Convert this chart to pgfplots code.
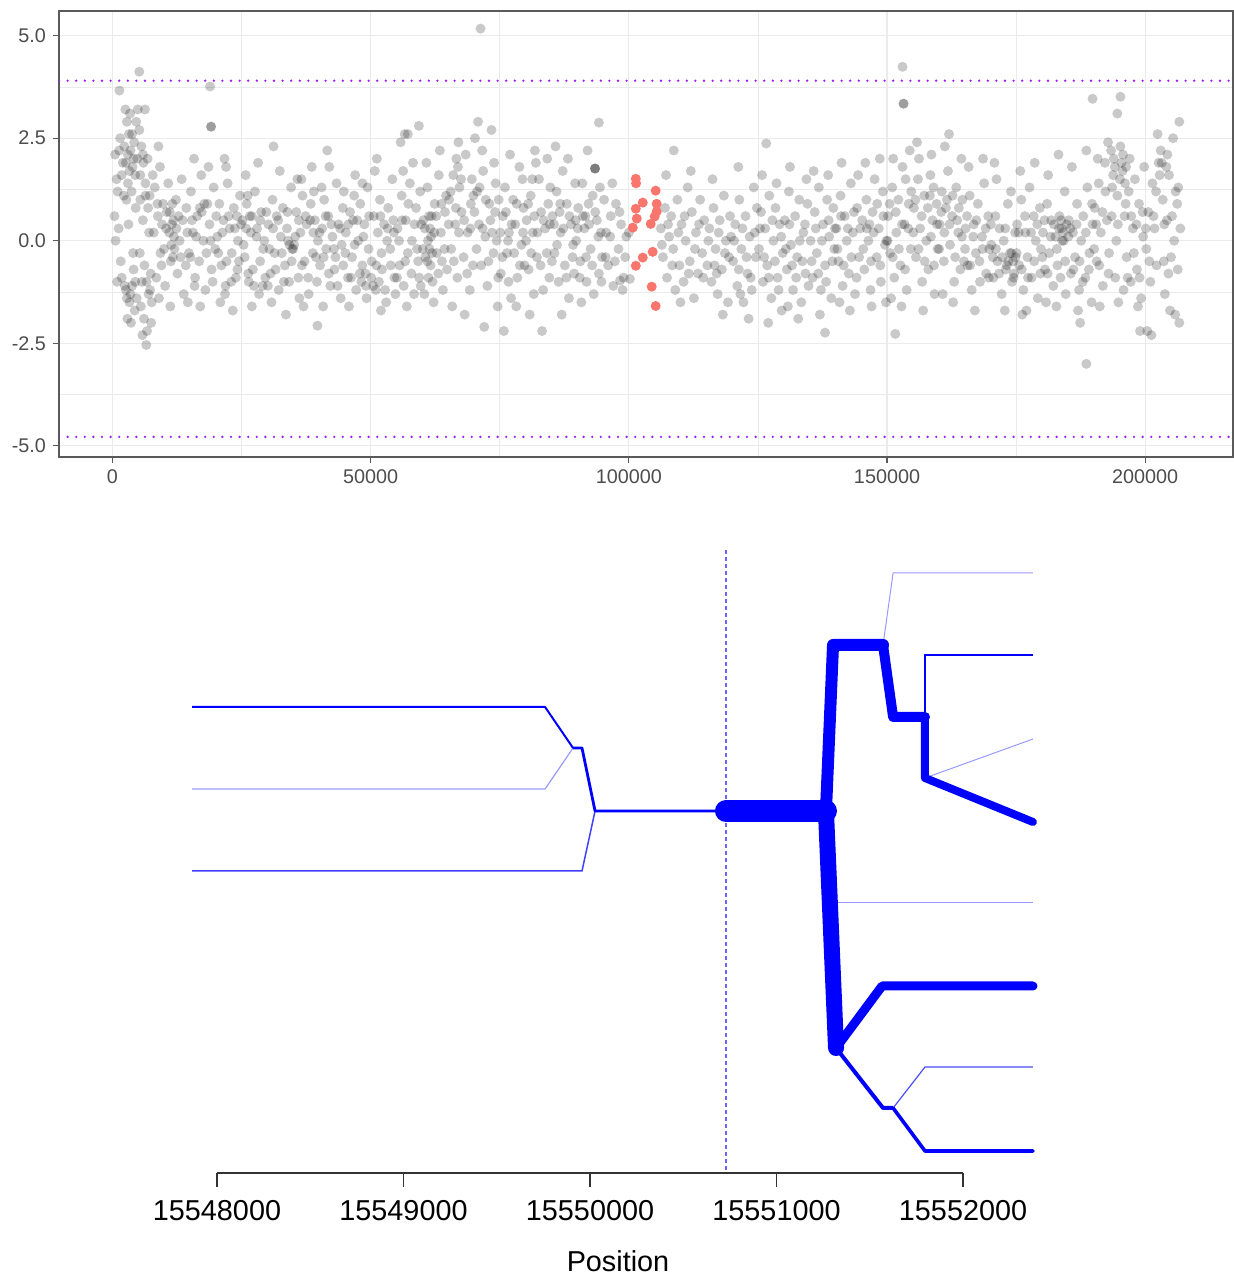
\documentclass[border=0pt]{standalone}
\usepackage{pgfplots}
\pgfplotsset{compat=1.18}
\usepackage{fontspec}
\setmainfont{Liberation Sans}
\definecolor{ggred}{HTML}{F8766D}
\definecolor{rpurple}{RGB}{160,32,240}
\definecolor{gridgray}{HTML}{EBEBEB}
\definecolor{bordergray}{HTML}{5A5A5A}
\definecolor{ticklab}{HTML}{4D4D4D}
\begin{document}
\begin{tikzpicture}
\useasboundingbox (0,0) rectangle (617pt,638pt);
% ---- top panel: per-SNP score along the region ----
\begin{axis}[
  at={(29.5pt,409.5pt)}, anchor=south west,
  scale only axis, width=587pt, height=223pt,
  xmin=-10350, xmax=217000, ymin=-5.27, ymax=5.6,
  scaled x ticks=false,
  xtick={0,50000,100000,150000,200000},
  xticklabels={0,50000,100000,150000,200000},
  minor xtick={25000,75000,125000,175000},
  ytick={-5,-2.5,0,2.5,5},
  yticklabels={-5.0,-2.5,0.0,2.5,5.0},
  minor ytick={-3.75,-1.25,1.25,3.75},
  grid=both,
  major grid style={gridgray, line width=0.55pt},
  minor grid style={gridgray, line width=0.3pt},
  axis line style={bordergray, line width=0.7pt},
  tick style={bordergray, line width=0.55pt},
  tick align=outside, major tick length=3pt, minor tick length=0pt,
  xtick pos=bottom, ytick pos=left,
  ticklabel style={font=\fontsize{9.9}{11}\selectfont, text=ticklab},
]
\addplot[rpurple, line width=1.3pt, dash pattern=on 0pt off 4.3pt, line cap=round]
  coordinates {(-10350,3.9) (217000,3.9)};
\addplot[rpurple, line width=1.3pt, dash pattern=on 0pt off 4.3pt, line cap=round]
  coordinates {(-10350,-4.78) (217000,-4.78)};
\addplot[only marks, mark=*, mark size=2.5pt, draw opacity=0,
  mark options={draw opacity=0, line width=0pt, fill=black, fill opacity=0.21}]
coordinates {
(500,2.1)(800,1.5)(1200,0.3)(1500,2.5)(900,-1.0)(1800,-0.9)(600,0.0)(2000,1.9)(1300,2.2)(2200,1.1)(400,0.6)(1600,-0.5)
(2800,2.9)(3200,2.6)(3500,2.2)(3900,1.8)(4200,2.4)(4600,2.9)(3000,1.4)(3700,1.2)(4400,1.6)(4800,2.0)(2600,-1.2)(3300,-1.5)
(3800,-1.1)(4300,-1.7)(4700,-1.4)(2900,-1.9)(3600,-2.0)(4100,-0.7)(4500,0.8)(3100,0.4)(4900,3.2)(3400,3.1)(2700,1.0)(4000,-0.3)
(5200,2.7)(5600,2.3)(6000,1.9)(6400,1.4)(6800,2.0)(7200,1.1)(5400,1.0)(5900,0.5)(6200,-0.6)(6600,-1.0)(7000,-1.3)(7400,-0.8)
(5500,-1.6)(6100,-1.9)(6700,-2.2)(7600,-1.5)(5800,-2.3)(7800,1.6)(5300,-0.3)(7100,0.2)(6300,3.2)(7500,-2.0)
(8200,1.3)(8700,0.9)(9200,1.8)(9600,0.4)(10000,-0.2)(10500,0.7)(11000,0.2)(11300,-0.5)(11600,0.9)(11800,0.5)(12000,-0.2)
(12300,1.0)(12600,-0.8)(13000,0.0)(13400,1.5)(13800,-1.3)(8500,-0.9)(9000,-1.4)(9500,-0.6)(10200,-1.1)(10800,1.4)(12800,0.6)
(13200,-0.4)(8900,2.3)(11200,-1.6)
(14300,0.8)(14800,-0.3)(15200,1.2)(15600,0.2)(16000,-0.9)(16400,0.6)(16800,-0.5)(17200,1.6)(17600,0.0)(18000,-1.2)(18400,0.9)
(18800,0.4)(19200,-0.7)(19600,1.3)(14600,-1.5)(15800,2.0)(17000,-1.6)(18600,1.8)(19900,-0.2)(15400,0.5)
(20300,0.1)(20700,0.9)(21100,-0.6)(21500,0.5)(21900,-1.1)(22300,1.4)(22700,0.3)(23100,-0.3)(23500,0.8)(23900,-0.9)(24300,0.0)
(24700,1.1)(20900,-1.5)(22000,1.8)(23300,-1.7)(24500,-0.5)(21700,2.0)(24100,0.6)
(25200,0.5)(25600,-0.4)(26000,0.9)(26400,-1.0)(26800,0.2)(27200,-0.7)(27600,1.2)(28000,0.3)(28400,-1.3)(28800,0.7)(29200,-0.2)
(29600,-0.9)(25800,1.6)(27000,-1.6)(28200,1.9)(29400,0.0)(26600,0.6)(28600,-0.5)
(30200,0.4)(30600,-0.8)(31000,1.0)(31400,-0.3)(31800,0.6)(32200,-1.2)(32600,0.1)(33000,0.8)(33400,-0.6)(33800,0.3)(34200,-1.0)
(34600,1.3)(30800,-1.5)(32400,1.7)(33600,-1.8)(34800,-0.2)(31200,2.3)(34000,0.0)
(35200,-0.1)(35600,0.7)(36000,-0.9)(36400,0.2)(36800,1.1)(37200,-0.5)(37600,0.4)(38000,-1.3)(38400,0.9)(38800,-0.3)(39200,0.5)
(39600,-1.0)(35800,1.5)(37000,-1.6)(38600,1.8)(39800,0.0)(36200,-1.4)(39000,1.2)
(40200,-0.6)(40600,0.3)(41000,1.0)(41400,-0.2)(41800,0.6)(42200,-1.1)(42600,0.1)(43000,-0.7)(43400,1.4)(43800,0.4)(44200,-1.4)
(44600,0.8)(40800,-1.6)(42000,1.8)(43200,-0.4)(44400,-0.1)(41600,2.2)(44800,1.2)
(45200,0.2)(45600,-0.9)(46000,0.7)(46400,-0.4)(46800,1.1)(47200,-1.2)(47600,0.0)(48000,0.9)(48400,-0.6)(48800,0.4)(49200,-1.4)
(49600,-0.2)(45800,-1.6)(47000,1.6)(48200,-1.0)(49400,1.3)(46600,0.5)(49000,-0.8)
(50200,-0.5)(50600,0.6)(51000,-1.2)(51400,0.2)(51800,1.0)(52200,-0.7)(52600,0.4)(53000,-1.5)(53400,0.8)(53800,-0.2)(54200,1.5)
(54600,-0.9)(50800,1.7)(52000,-1.7)(53200,0.0)(54400,0.5)(51200,2.0)(54800,-1.3)
(55200,0.3)(55600,-0.6)(56000,1.1)(56400,-1.1)(56800,0.5)(57200,-0.3)(57600,1.4)(58000,0.0)(58400,-1.3)(58800,0.8)(59200,-0.5)
(59600,1.2)(55800,2.4)(57000,-1.6)(58200,1.9)(59400,-0.9)(56600,2.6)(59800,0.4)
(60200,0.5)(60600,-0.4)(61000,1.3)(61400,-0.2)(61500,0.3)(61600,-0.6)(61700,0.1)(61800,0.6)(62000,-1.0)(62400,0.9)(62800,-0.3)
(63200,1.6)(63600,0.2)(64000,-1.2)(64400,0.7)(64800,-0.7)(60800,1.9)(62200,-1.5)(63400,2.2)(64600,1.1)(60400,-1.3)(63800,-0.5)
(65200,1.0)(65600,-0.2)(66000,1.6)(66400,0.4)(66800,-0.9)(67200,1.3)(67600,0.7)(68000,-0.4)(68400,2.1)(68800,0.2)(69200,-1.2)
(69600,1.5)(65800,-1.6)(67000,2.4)(68200,-1.8)(69400,0.9)(66600,2.0)(69800,-0.6)
(70200,2.5)(70600,1.2)(71000,0.4)(71400,-0.6)(71800,1.7)(72200,0.1)(72600,-1.1)(73000,0.9)(73400,2.7)(73800,-0.3)(74200,1.4)
(74600,-1.6)(70800,2.9)(72000,-2.1)(73200,0.5)(74400,0.0)(71600,2.2)(74800,1.0)
(75200,-0.8)(75600,0.6)(76000,1.3)(76400,-0.3)(76800,0.2)(77200,-1.4)(77600,1.0)(78000,0.4)(78400,-0.9)(78800,1.8)(79200,-0.1)
(79600,0.8)(75800,-2.2)(77000,2.1)(78200,-1.6)(79400,1.5)(76600,0.0)(79800,-0.6)
(80200,0.5)(80600,-0.7)(81000,1.1)(81400,0.2)(81800,2.2)(82200,-0.4)(82600,1.5)(83000,0.7)(83400,-1.2)(83800,0.3)(84200,2.0)
(84600,-0.9)(80800,-1.8)(82000,1.9)(83200,-2.2)(84400,0.9)(81600,-1.3)(84800,1.3)
(85200,0.6)(85600,-0.3)(86000,1.2)(86400,-1.0)(86800,0.2)(87200,1.7)(87600,-0.6)(88000,0.9)(88400,-1.4)(88800,0.4)(89200,-0.1)
(89600,1.4)(85800,2.3)(87000,-1.8)(88200,2.0)(89400,-0.8)(86600,0.7)(89800,0.0)
(90200,0.8)(90600,-0.5)(91000,1.4)(91400,0.3)(91800,-1.0)(92200,0.9)(92600,-0.2)(93000,1.1)(93450,1.76)(93450,1.76)(93450,1.76)
(93800,0.5)(94200,-0.8)(94600,0.2)(90800,-1.5)(92000,2.2)(93200,-1.3)(94400,1.3)(91600,0.6)(94800,-0.4)(94200,2.88)
(95200,1.0)(95600,0.2)(96000,-0.6)(96500,0.6)(97000,-1.1)(97500,0.9)(98000,-0.2)(98500,0.4)(99000,-0.9)(99500,0.1)(96800,1.4)
(98800,-1.2)(100200,-0.93)(100000,0.2)(98300,-0.97)
(106200,0.3)(106600,-0.4)(107000,0.8)(107400,-0.9)(107800,0.1)(108200,0.6)(108600,-0.2)(108700,2.2)(109000,-1.2)(109400,1.0)
(109800,-0.6)(110200,0.4)(110600,-1.0)(111000,0.0)(111400,1.3)(111800,-0.5)(112200,0.7)(112600,-1.4)(113000,0.2)(113400,-0.8)
(113800,1.0)(114200,-0.3)(114600,0.5)(107200,1.6)(112000,1.7)(110000,-1.5)
(115200,-0.6)(115600,0.3)(116000,-1.0)(116400,0.8)(116800,-0.2)(117200,-1.3)(117600,0.5)(118000,-0.7)(118400,1.1)(118800,0.0)
(119200,-1.5)(119600,0.6)(116200,1.5)(118200,-1.8)(119400,-0.4)
(120200,-0.5)(120600,0.4)(121000,-1.1)(121400,1.0)(121800,-0.2)(122200,-1.5)(122600,0.6)(123000,-0.8)(123400,0.1)(123800,-1.2)
(124200,1.3)(124600,-0.4)(121200,1.8)(123200,-1.9)(124800,0.8)
(125200,-0.2)(125600,0.7)(126000,-1.0)(126400,0.3)(126600,2.37)(126800,-0.6)(127200,1.1)(127600,-1.4)(128000,0.0)(128400,0.8)
(128800,-0.9)(129200,0.4)(129600,-1.7)(125800,1.6)(127000,-2.0)(128600,1.4)(129800,-0.3)
(130200,0.5)(130600,-0.7)(131000,1.2)(131400,-0.1)(131800,-1.2)(132200,0.6)(132600,-0.4)(133000,1.0)(133400,-1.5)(133800,0.2)
(134200,-0.8)(134600,0.9)(131200,1.8)(132800,-1.9)(134400,1.5)(130800,-1.6)
(135200,0.0)(135600,-0.9)(136000,0.7)(136400,-0.3)(136800,1.3)(137200,-1.2)(137600,0.4)(138000,-0.6)(138400,1.0)(138800,0.1)
(139200,-1.4)(139600,0.8)(135800,1.7)(137000,-1.8)(138600,1.6)(139800,-0.2)(138000,-2.24)
(140200,0.3)(140600,-0.5)(141000,1.1)(141400,-1.1)(141800,0.6)(142200,0.0)(142600,-0.8)(143000,1.4)(143400,0.2)(143800,-1.3)
(144200,0.8)(144600,-0.4)(141200,1.9)(142800,-1.7)(144400,1.6)(140800,-1.5)
(145200,0.5)(145600,-0.7)(146000,1.0)(146400,0.0)(146800,-1.2)(147200,0.7)(147600,1.5)(148000,-0.4)(148400,0.3)(148800,-1.0)
(149200,1.2)(149600,-0.1)(145800,1.9)(147000,-1.6)(148600,2.0)(149800,-1.5)(146600,0.4)
(150200,0.6)(150600,-0.3)(151000,1.3)(151400,-0.9)(151600,-2.27)(151800,0.2)(152200,1.0)(152600,-0.6)(153000,1.8)(153400,0.4)
(153800,-1.2)(154200,0.9)(154600,-0.2)(151200,2.0)(152800,-1.6)(154400,2.2)(150800,-1.4)(153600,1.5)
(155200,0.8)(155600,-0.4)(156000,1.5)(156400,0.3)(156800,-1.0)(157200,1.1)(157600,0.0)(158000,-0.7)(158400,1.6)(158800,0.5)
(159200,-1.3)(159600,0.9)(155800,2.4)(157000,-1.7)(158600,2.1)(159800,-0.2)(156200,2.0)(159000,1.3)
(160200,0.4)(160600,1.2)(161000,-0.5)(161400,0.8)(161800,1.7)(162200,-0.1)(162600,0.6)(163000,-1.0)(163400,1.3)(163800,0.2)
(164200,-0.7)(164600,1.0)(161200,2.3)(162800,-1.5)(164400,2.0)(160800,-1.3)(163600,0.5)(162000,2.6)
(165200,0.3)(165600,-0.6)(166000,1.1)(166400,-1.2)(166800,0.4)(167200,-0.3)(167600,0.9)(168000,-1.0)(168400,0.1)(168800,1.4)
(169200,-0.8)(169600,0.6)(165800,1.8)(167000,-1.7)(168600,2.0)(169800,-0.2)
(170200,-0.1)(170600,-0.9)(171000,0.6)(171400,-0.5)(171800,0.3)(172200,-1.3)(172600,0.0)(173000,-0.7)(173400,0.9)(173800,-0.3)
(174200,-1.0)(174400,-0.5)(174600,-0.8)(174800,0.2)(171200,1.5)(172800,-1.7)(174000,1.2)(170800,1.9)
(175200,0.4)(175600,-0.6)(176000,1.0)(176400,-1.2)(176800,0.2)(177200,-0.4)(177600,1.3)(178000,-0.9)(178400,0.6)(178800,0.0)
(179200,-1.4)(179600,0.8)(175800,1.7)(177000,-1.7)(178600,1.9)(179800,-0.2)(176200,-1.8)
(180200,0.2)(180600,-0.7)(181000,0.9)(181400,-0.3)(181800,0.5)(182200,-1.1)(182600,0.1)(183000,-0.6)(183400,0.6)(183800,0.3)
(184200,0.0)(184600,-1.3)(181200,1.6)(182800,-1.6)(184400,1.2)(180800,-1.5)(183600,-0.9)(184800,0.4)(183200,2.1)
(185200,0.5)(185600,-0.8)(186000,0.2)(186400,-0.4)(186800,0.9)(187200,-1.2)(187600,0.0)(188000,0.6)(188400,-0.9)(188800,1.3)
(189200,-0.3)(189600,-1.5)(185800,1.8)(187000,-1.7)(188600,2.2)(189800,0.4)(188600,-3.0)(187400,-2.0)
(190200,0.8)(190600,-0.5)(191000,1.4)(191400,0.2)(191800,-1.1)(192200,1.9)(192600,0.5)(193000,-0.3)(193400,2.2)(193800,1.6)
(194200,-0.9)(194600,1.1)(191200,-1.6)(192800,2.4)(194400,0.0)(190800,2.0)(193600,1.3)(194800,-1.5)
(195200,2.3)(195600,1.7)(196000,0.6)(196400,-0.4)(196800,1.2)(197200,-1.0)(197600,0.3)(198000,1.5)(198400,-0.7)(198800,0.9)
(199200,-1.4)(199600,0.1)(195800,-1.2)(197000,2.0)(198600,-1.6)(199800,1.8)(196200,0.9)(199000,-2.2)
(200200,-0.2)(200600,0.7)(201000,-1.0)(201400,1.4)(201800,0.3)(202200,-0.6)(202600,1.9)(203000,2.2)(203400,1.0)(203800,-1.3)
(204200,0.5)(204600,1.6)(205000,-0.4)(205400,2.5)(205800,-1.8)(206200,0.9)(206600,2.9)(206600,-2.0)(205600,0.0)(204800,-1.7)
(201200,-2.3)(202400,2.6)(206400,1.3)(203600,-0.5)(200400,-2.2)
(71290,5.17)(5200,4.12)(1350,3.66)(18900,3.76)(19100,2.78)(19100,2.78)(153000,4.24)(153200,3.34)(153200,3.34)(189800,3.46)
(195200,3.51)(194600,3.1)(6550,-2.54)(39700,-2.07)(59340,2.8)(57200,2.6)(2500,3.2)
(2300,2.3)(2600,1.9)(3000,2.1)(3300,1.7)(3800,2.6)(4100,2.0)(2400,-1.1)(2800,-1.4)(3500,-1.3)(4400,-1.0)(1800,1.6)(1000,1.2)
(5400,1.6)(5900,2.1)(6400,1.1)(6900,0.8)(7300,-1.2)(8000,0.2)(8800,0.6)(9300,-0.3)(9800,0.9)(5700,-1.0)
(10400,0.3)(11100,0.7)(11400,-0.1)(11500,0.4)(11700,-0.4)(11900,0.1)(12400,0.3)(13600,0.5)(14200,-0.6)(14500,0.2)
(15100,-0.4)(16200,0.1)(16900,0.8)(17300,0.7)(17800,0.9)(18200,-0.3)(19000,0.0)(19400,-1.0)(15900,-1.1)
(20500,-0.3)(21300,0.2)(22100,-0.5)(22500,0.6)(23000,-1.0)(23700,0.3)(24200,-0.7)(24900,0.4)(21800,-1.3)(20100,0.6)
(25400,-0.1)(25900,0.3)(26300,-0.8)(27000,0.6)(27400,-1.1)(27900,0.1)(28600,0.5)(29100,-1.1)(29800,0.7)(26200,1.1)
(30400,-0.2)(31100,0.3)(31600,-0.7)(32100,0.5)(32800,-0.3)(33200,-1.0)(33900,0.7)(34300,-0.1)(34700,-0.5)(30100,-1.1)
(35000,-0.2)(35400,0.1)(36100,0.5)(36700,-0.6)(37400,0.6)(37900,-0.9)(38300,0.5)(38900,0.2)(39400,-0.4)(36600,1.5)
(40100,0.2)(40900,-0.4)(41300,0.6)(41900,-0.8)(42400,0.4)(42900,-0.2)(43600,-1.1)(44100,0.3)(44700,-0.6)(40500,1.3)
(45100,-0.3)(45700,0.4)(46200,-0.9)(46900,-0.1)(47400,0.5)(47900,-0.8)(48600,0.1)(49100,-1.1)(49700,0.6)(48400,1.4)
(50100,-0.9)(50500,-1.1)(51100,-0.6)(51600,-1.0)(52100,-0.3)(52800,-1.2)(53300,0.3)(53900,-0.6)(54500,0.2)(51900,0.6)
(55100,-0.9)(55500,0.0)(56100,0.5)(56700,-0.5)(57300,0.9)(57900,-0.8)(58500,0.4)(59000,-0.2)(59700,-1.1)(56300,1.7)
(60100,-0.2)(60500,0.3)(61000,-0.5)(61300,0.6)(61900,-0.3)(62300,0.2)(62700,0.6)(63100,-0.8)(63700,0.9)(64300,-0.2)(61100,0.0)(61200,-0.9)
(65100,0.4)(65500,1.2)(66100,-0.5)(66500,0.8)(67100,0.2)(67500,1.5)(68100,0.5)(68700,-0.8)(69300,0.3)(69900,1.1)(66900,1.8)
(70100,0.7)(70500,-0.2)(71100,1.3)(71700,0.3)(72300,1.0)(72800,-0.5)(73500,0.2)(74100,0.7)(74700,-0.9)(73900,1.9)
(75100,0.2)(75500,-0.4)(76200,0.7)(76700,-1.0)(77300,0.4)(77800,-0.3)(78300,0.9)(78900,-0.6)(79500,0.2)
(80100,0.0)(80500,0.9)(81100,-0.3)(81700,0.6)(82300,0.2)(82900,-0.6)(83500,0.5)(84100,-0.3)(84700,0.4)(81300,1.5)
(85100,-0.5)(85500,0.4)(86100,-0.1)(86700,0.9)(87300,0.3)(87900,-0.9)(88500,0.6)(89100,-0.4)(89700,0.5)
(90100,0.3)(90500,-0.9)(91100,0.6)(91700,-0.4)(92300,0.4)(92900,-0.6)(93500,0.7)(94100,0.1)(94700,-1.0)
(95500,-0.4)(96400,0.1)(97300,-0.5)(98200,0.7)(99300,-0.4)
(106400,-0.1)(107600,0.4)(108400,-0.6)(109600,0.2)(110800,0.6)(111600,-0.8)(112800,-0.2)(113600,0.4)(114400,-0.9)
(115400,0.0)(116600,-0.6)(117400,0.2)(118600,-0.3)(119800,0.1)(117000,-0.8)
(120400,0.0)(121300,-0.7)(122000,0.3)(122800,-0.4)(123600,-0.9)(124400,0.2)(121600,-1.3)
(125400,0.3)(126200,-0.4)(127100,-0.9)(127800,0.5)(128300,-0.5)(129000,-1.2)(129500,0.1)
(130400,-0.2)(131100,0.4)(131600,-0.6)(132400,-0.9)(133100,0.0)(133600,-0.5)(134100,0.4)(134800,-1.1)
(135400,-0.5)(136200,0.3)(136700,-0.8)(137400,0.0)(138200,-1.0)(138700,0.5)(139400,-0.5)(139900,0.3)
(140400,-0.2)(141100,0.6)(141600,-0.6)(142400,0.3)(143100,-0.4)(143600,0.7)(144100,-0.9)(144800,0.3)
(145400,-0.2)(146100,0.3)(146900,-0.5)(147400,0.2)(148100,0.9)(148700,-0.6)(149300,0.6)(149900,0.0)
(150100,0.0)(150500,0.9)(151100,-0.4)(151700,0.7)(152300,-0.2)(152900,0.4)(153500,-0.7)(154100,0.3)(154700,1.2)
(155100,0.2)(155500,1.0)(156100,-0.2)(156700,0.6)(157300,-0.5)(157900,0.8)(158500,0.1)(159100,-0.6)(159700,0.4)(158300,1.1)
(160100,-0.2)(160500,0.7)(161100,0.2)(161600,1.0)(162100,0.4)(162700,1.1)(163200,-0.4)(163900,0.8)(164500,0.1)(164900,-0.5)
(165100,-0.2)(165500,0.6)(166100,-0.6)(166700,0.1)(167300,0.5)(167900,-0.5)(168500,-0.2)(169100,0.3)(169700,-0.9)
(170100,0.4)(170500,-0.4)(171100,-0.2)(171700,-0.8)(172300,-0.4)(172900,0.3)(173500,-0.5)(174100,-0.3)(174500,-0.9)(174900,-0.4)(173200,-0.6)
(175100,-0.3)(175500,0.2)(176100,-0.7)(176700,0.6)(177300,-0.9)(177900,0.2)(178500,-0.5)(179100,0.4)(179700,-0.8)
(180100,-0.4)(180500,0.5)(181100,-0.8)(181700,0.1)(182300,0.4)(182900,-0.2)(183300,0.3)(183700,0.5)(184100,0.2)(184500,-0.5)(183900,0.0)
(185100,0.1)(185500,0.3)(186100,-0.7)(186700,0.4)(187300,-0.5)(187900,-1.0)(188500,0.2)(189100,-0.7)(189700,0.9)
(190100,-0.2)(190500,0.4)(191100,-0.6)(191700,0.7)(192300,1.2)(192900,-0.8)(193500,0.6)(194100,1.8)(194700,0.4)(193900,2.0)
(195100,1.5)(195400,1.9)(195700,2.1)(196100,1.4)(196600,-0.9)(197300,0.6)(197800,-0.3)(198300,0.4)(198900,-0.9)(199500,0.7)(196300,1.8)
(200100,0.3)(200800,-0.5)(201600,0.6)(202100,1.2)(202800,1.6)(203200,1.9)(203700,0.4)(204100,1.8)(204500,-0.8)(205200,0.6)
(205900,1.2)(206300,-0.7)(206800,0.3)(204300,2.1)
};
\addplot[only marks, mark=*, mark size=2.5pt, draw opacity=0,
  mark options={draw opacity=0, line width=0pt, fill=ggred}]
coordinates {
(101350,1.51)(101400,1.40)(105200,1.22)(102700,0.93)(105390,0.90)(101350,0.78)(105390,0.71)(105010,0.59)
(101540,0.54)(104240,0.41)(100770,0.32)(104620,-0.27)(102700,-0.41)(101350,-0.61)(104430,-1.12)(105200,-1.59)
};
\end{axis}
% ---- bottom panel: haplotype bifurcation around the focal SNP ----
% x is the position minus 15548000
\begin{axis}[
  at={(89.85pt,51.5pt)}, anchor=south west,
  scale only axis, width=438.3pt, height=316.5pt,
  xmin=-200, xmax=4500, ymin=-362, ymax=271,
  axis x line=bottom, axis y line=none,
  x axis line style={draw=none},
  xtick={0,1000,2000,3000,4000},
  xticklabels={15548000,15549000,15550000,15551000,15552000},
  tick style={black!80, line width=0.6pt}, tick align=outside, major tick length=7pt,
  ticklabel style={font=\fontsize{14.4}{17}\selectfont},
  xticklabel style={yshift=-3pt},
  xlabel={Position}, xlabel style={font=\fontsize{14.4}{17}\selectfont, yshift=-8pt},
  clip=false,
]
\addplot[black!80, line width=0.6pt] coordinates {(0,-362) (4000,-362)};
\addplot[blue, opacity=0.6, line width=0.6pt, dash pattern=on 2pt off 1.5pt]
  coordinates {(2729,261) (2729,-362)};
% left side
\addplot[blue, line width=1pt, line join=round] coordinates {(-134,104) (1759,104) (1909,63)};
\addplot[blue, opacity=0.4, line width=0.6pt] coordinates {(-134,22) (1759,22) (1909,63)};
\addplot[blue, opacity=0.75, line width=0.75pt] coordinates {(-134,-60) (1957,-60) (2027,0)};
\addplot[blue, line width=1.4pt, line join=round] coordinates {(1909,63) (1957,63) (2027,0) (2729,0)};
\addplot[blue, line width=11pt, line cap=round] coordinates {(2729,0) (3265,0)};
% right side, upper
\addplot[blue, opacity=0.4, line width=0.5pt] coordinates {(3571,166) (3625,238) (4375,238)};
\addplot[blue, line width=0.6pt] coordinates {(3796,94) (3796,156) (4375,156)};
\addplot[blue, opacity=0.4, line width=0.5pt] coordinates {(3796,33) (4375,72)};
\addplot[blue, line width=6pt, line join=round, line cap=round] coordinates {(3265,0) (3303,166) (3571,166)};
\addplot[blue, line width=5pt, line join=round, line cap=round] coordinates {(3571,166) (3625,94) (3796,94)};
\addplot[blue, line width=4pt, line join=round, line cap=round] coordinates {(3796,94) (3796,33) (4375,-11)};
% right side, lower
\addplot[blue, line width=8pt, line cap=round, line join=round] coordinates {(3265,0) (3319,-237)};
\addplot[blue, opacity=0.4, line width=0.5pt] coordinates {(3330,-92) (4375,-92)};
\addplot[blue, line width=4.5pt, line join=round, line cap=round] coordinates {(3319,-237) (3566,-175) (4375,-175)};
\addplot[blue, line width=2pt, line join=round] coordinates {(3319,-237) (3571,-297) (3625,-297)};
\addplot[blue, line width=1.8pt, line join=round, line cap=round] coordinates {(3625,-297) (3796,-340) (4375,-340)};
\addplot[blue, opacity=0.7, line width=0.6pt] coordinates {(3625,-297) (3796,-256) (4375,-256)};
\end{axis}
\end{tikzpicture}
\end{document}
